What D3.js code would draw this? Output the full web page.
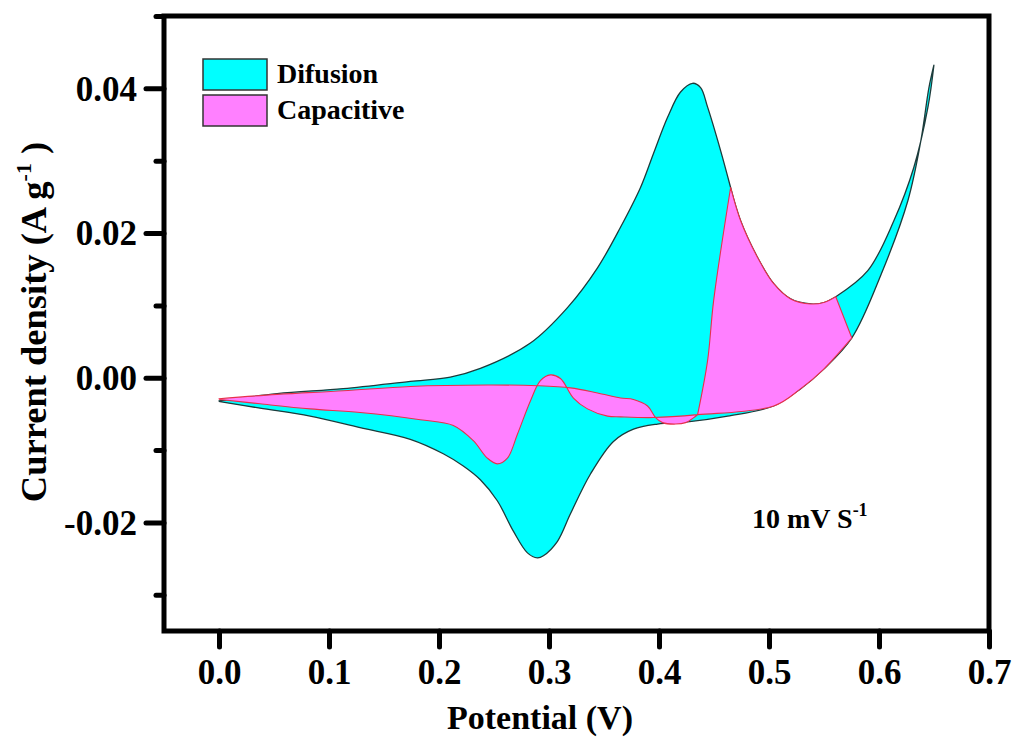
<!DOCTYPE html>
<html>
<head>
<meta charset="utf-8">
<script src="https://cdn.jsdelivr.net/npm/d3@7"></script>
<style>
  html, body { margin: 0; padding: 0; background: #fff; }
  svg { display: block; }
  text { font-family: "Liberation Serif", "Times New Roman", serif; font-weight: bold; fill: #000; }
</style>
</head>
<body>
<svg id="chart"></svg>
<script>
// Potential (V), current density (A/g).
// Total CV (diffusion colour) split into smooth pieces, joined at corners.
const totalForward = [
  [0.0000, -0.0032], [0.0528, -0.0022], [0.1129, -0.0015], [0.1739, -0.0005],
  [0.2103, 0.0001], [0.2376, 0.0013], [0.2831, 0.0048], [0.3168, 0.0097],
  [0.3441, 0.0152], [0.3650, 0.0208], [0.3832, 0.0263], [0.3950, 0.0310],
  [0.4078, 0.0360], [0.4196, 0.0395], [0.4305, 0.0407], [0.4378, 0.0401],
  [0.4442, 0.0374], [0.4560, 0.0314], [0.4651, 0.0263]
];
const sharedTop = [
  [0.4651, 0.0263], [0.4742, 0.0217], [0.4897, 0.0166], [0.5043, 0.0130],
  [0.5197, 0.0109], [0.5380, 0.0102], [0.5498, 0.0104], [0.5607, 0.0112]
];
const totalRise = [
  [0.5607, 0.0112], [0.5898, 0.0148], [0.6135, 0.0217], [0.6317, 0.0291],
  [0.6445, 0.0374], [0.6499, 0.0432]
];
const totalReverse = [
  [0.6499, 0.0432], [0.6454, 0.0401], [0.6381, 0.0328], [0.6263, 0.0245],
  [0.6017, 0.0142], [0.5753, 0.0055], [0.5498, 0.0012], [0.5289, -0.0015],
  [0.5043, -0.0039], [0.4624, -0.0053], [0.4260, -0.0061], [0.3987, -0.0064],
  [0.3768, -0.0071], [0.3586, -0.0088], [0.3377, -0.0133], [0.3195, -0.0188],
  [0.3077, -0.0226], [0.2949, -0.0246], [0.2895, -0.0249], [0.2804, -0.0242],
  [0.2676, -0.0212], [0.2530, -0.0170], [0.2376, -0.0141], [0.2221, -0.0122],
  [0.2039, -0.0105], [0.1739, -0.0085], [0.1283, -0.0069], [0.0828, -0.0053],
  [0.0373, -0.0042], [0.0009, -0.0033]
];

// Capacitive contribution
const capForward = [
  [0.0000, -0.0029], [0.0528, -0.0023], [0.1129, -0.0018], [0.1739, -0.0012],
  [0.2439, -0.0010], [0.2895, -0.0011], [0.3195, -0.0014], [0.3441, -0.0021],
  [0.3650, -0.0028], [0.3768, -0.0030], [0.3896, -0.0039], [0.3969, -0.0055],
  [0.4032, -0.0062], [0.4151, -0.0064], [0.4242, -0.0062], [0.4351, -0.0051]
];
const capJump = [
  [0.4351, -0.0051], [0.4442, 0.0024], [0.4497, 0.0107], [0.4651, 0.0263]
];
const capTurn = [[0.5607, 0.0112], [0.5753, 0.0055]];
const capReverse = [
  [0.5753, 0.0055], [0.5498, 0.0012], [0.5289, -0.0015], [0.5043, -0.0039],
  [0.4351, -0.0051], [0.3950, -0.0055], [0.3650, -0.0054], [0.3532, -0.0053],
  [0.3350, -0.0043], [0.3222, -0.0028], [0.3104, -0.0001], [0.3013, 0.0004],
  [0.2922, -0.0004], [0.2831, -0.0032], [0.2713, -0.0078], [0.2622, -0.0111],
  [0.2530, -0.0119], [0.2439, -0.0111], [0.2312, -0.0087], [0.2130, -0.0066],
  [0.1830, -0.0058], [0.1283, -0.0048], [0.0828, -0.0043], [0.0373, -0.0036],
  [0.0009, -0.0030]
];

const xTicks = [0.0, 0.1, 0.2, 0.3, 0.4, 0.5, 0.6, 0.7];
const yTicks = [-0.02, 0.00, 0.02, 0.04];
const yMinorTicks = [-0.03, -0.01, 0.01, 0.03, 0.05];
const legendLabels = ['Difusion', 'Capacitive'];
const legendColors = ['#00FFFF', '#FF80FF'];

const width = 1015, height = 743;
const plot = { left: 164, right: 989, top: 16, bottom: 631 };

const svg = d3.select('#chart')
  .attr('width', width)
  .attr('height', height);

const x = d3.scaleLinear().domain([-0.05, 0.7]).range([plot.left, plot.right]);
const y = d3.scaleLinear().domain([-0.035, 0.05]).range([plot.bottom, plot.top]);

const line = d3.line()
  .x(d => x(d[0]))
  .y(d => y(d[1]))
  .curve(d3.curveCatmullRom.alpha(0.5));

// join smooth pieces into one closed outline, keeping the corners sharp
function loopPath(pieces) {
  return pieces.map((p, i) => {
    const s = line(p);
    return i ? s.replace(/^M/, 'L') : s;
  }).join('') + 'Z';
}

svg.append('path')
  .attr('d', loopPath([totalForward, sharedTop, totalRise, totalReverse]))
  .attr('fill', legendColors[0])
  .attr('stroke', '#1d3b3b')
  .attr('stroke-width', 1.3)
  .attr('stroke-linejoin', 'round');

svg.append('path')
  .attr('d', loopPath([capForward, capJump, sharedTop, capTurn, capReverse]))
  .attr('fill', legendColors[1])
  .attr('stroke', '#e8304c')
  .attr('stroke-width', 1.1)
  .attr('stroke-linejoin', 'round');

// axes
const yAxis = svg.append('g')
  .attr('transform', `translate(${plot.left},0)`)
  .call(d3.axisLeft(y).tickValues(yTicks).tickSize(18).tickPadding(9)
    .tickFormat(d => d.toFixed(2)));

svg.append('g')
  .attr('transform', `translate(${plot.left},0)`)
  .call(d3.axisLeft(y).tickValues(yMinorTicks).tickSize(8).tickFormat(''));

const xAxis = svg.append('g')
  .attr('transform', `translate(0,${plot.bottom})`)
  .call(d3.axisBottom(x).tickValues(xTicks).tickSize(16).tickPadding(12)
    .tickFormat(d => d.toFixed(1)));

svg.selectAll('.domain').remove();
svg.selectAll('.tick line')
  .attr('stroke', '#000')
  .attr('stroke-width', 5)
  .attr('stroke-linecap', 'round');
svg.selectAll('.tick text')
  .style('font-family', '"Liberation Serif", serif')
  .style('font-weight', 'bold')
  .style('font-size', '35px')
  .attr('fill', '#000');
yAxis.selectAll('.tick text').attr('dy', '0.34em');
xAxis.selectAll('.tick text').attr('dy', '0.71em');

// frame
svg.append('rect')
  .attr('x', plot.left)
  .attr('y', plot.top)
  .attr('width', plot.right - plot.left)
  .attr('height', plot.bottom - plot.top)
  .attr('fill', 'none')
  .attr('stroke', '#000')
  .attr('stroke-width', 5);

// axis titles
svg.append('text')
  .attr('x', 540)
  .attr('y', 729)
  .attr('text-anchor', 'middle')
  .style('font-size', '34px')
  .text('Potential (V)');

const yTitle = svg.append('text')
  .attr('transform', `translate(46,322) rotate(-90)`)
  .attr('text-anchor', 'middle')
  .style('font-size', '36.5px');
yTitle.append('tspan').text('Current density (A g');
yTitle.append('tspan').attr('dy', -15).style('font-size', '22px').text('-1');
yTitle.append('tspan').attr('dy', 15).text('\u00a0)');

// legend
const legend = svg.append('g');
legendLabels.forEach((label, i) => {
  const ly = 59 + i * 36;
  legend.append('rect')
    .attr('x', 203).attr('y', ly)
    .attr('width', 64).attr('height', 31)
    .attr('fill', legendColors[i])
    .attr('stroke', '#333')
    .attr('stroke-width', 1.5);
  legend.append('text')
    .attr('x', 277).attr('y', ly + 24)
    .style('font-size', '28px')
    .text(label);
});

// scan rate note
const note = svg.append('text')
  .attr('x', 752).attr('y', 528)
  .style('font-size', '28px');
note.append('tspan').text('10 mV S');
note.append('tspan').attr('dy', -12).style('font-size', '18px').text('-1');
</script>
</body>
</html>
